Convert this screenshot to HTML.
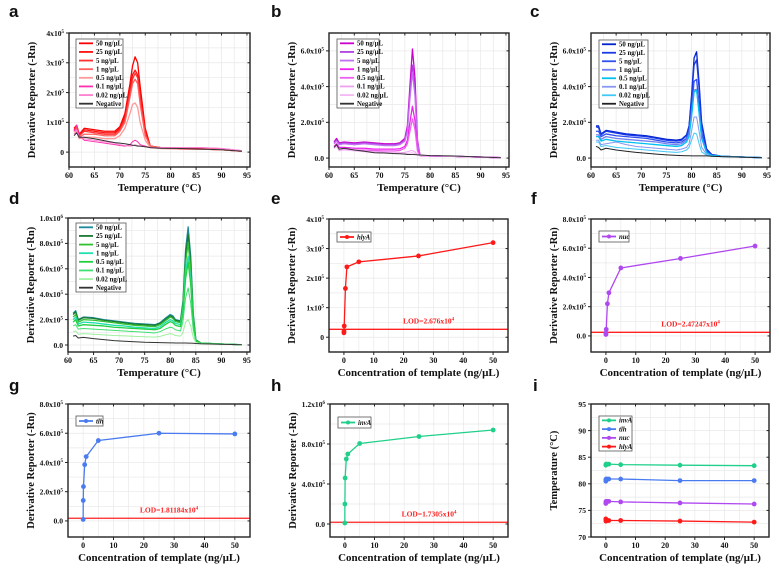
<!DOCTYPE html>
<html><head><meta charset="utf-8">
<style>
html,body{margin:0;padding:0;background:#fff;}
svg{display:block;font-family:"Liberation Serif",serif;}
.lt{font-family:"Liberation Sans",sans-serif;font-weight:bold;font-size:17px;}
</style></head>
<body>
<svg id="fig" width="779" height="570" viewBox="0 0 779 570" xmlns="http://www.w3.org/2000/svg"></svg>
<script>
// ---------- data ----------
const meltLabels = ["50 ng/\u00b5L","25 ng/\u00b5L","5 ng/\u00b5L","1 ng/\u00b5L","0.5 ng/\u00b5L","0.1 ng/\u00b5L","0.02 ng/\u00b5L","Negative"];
const tempA = [61,61.5,62,63,65,67,69,70,71,72,72.5,73,73.5,74,75,76,78,82,86,90,94];
const serA = [
[0.8,0.9,0.6,0.8,0.75,0.7,0.7,0.85,1.3,2.3,2.9,3.2,3.0,2.2,0.8,0.2,0.15,0.12,0.12,0.1,0.03],
[0.75,0.9,0.6,0.75,0.7,0.65,0.65,0.8,1.2,2.1,2.6,2.75,2.6,1.9,0.7,0.2,0.15,0.12,0.1,0.08,0.03],
[0.7,0.85,0.55,0.7,0.65,0.6,0.6,0.75,1.1,2.0,2.45,2.65,2.5,1.8,0.6,0.2,0.15,0.1,0.1,0.08,0.03],
[0.7,0.8,0.5,0.6,0.6,0.55,0.55,0.7,1.0,1.85,2.3,2.45,2.3,1.6,0.55,0.2,0.15,0.1,0.1,0.08,0.03],
[0.6,0.7,0.45,0.5,0.5,0.45,0.45,0.55,0.8,1.3,1.6,1.65,1.5,1.0,0.4,0.15,0.12,0.1,0.1,0.08,0.03],
[0.7,0.9,0.55,0.4,0.35,0.3,0.25,0.22,0.2,0.25,0.35,0.4,0.35,0.25,0.2,0.15,0.15,0.15,0.15,0.12,0.05],
[0.6,0.75,0.5,0.45,0.4,0.35,0.3,0.25,0.22,0.2,0.22,0.25,0.22,0.2,0.18,0.15,0.15,0.15,0.15,0.12,0.05],
[0.55,0.65,0.5,0.5,0.45,0.38,0.32,0.3,0.28,0.25,0.23,0.22,0.2,0.2,0.18,0.15,0.13,0.12,0.1,0.08,0.03]];
const tempB = [61,61.5,62,63,65,67,69,71,73,74,75,75.5,76,76.5,77,77.5,78,80,84,88,94];
const serB = [
[0.9,1.1,0.85,0.9,0.85,0.9,0.85,0.8,0.8,0.85,1.1,1.8,4.0,6.1,4.5,1.0,0.15,0.12,0.1,0.07,0.02],
[0.85,1.0,0.8,0.85,0.8,0.85,0.8,0.75,0.75,0.8,1.0,1.6,3.6,5.2,3.8,0.9,0.15,0.12,0.1,0.07,0.02],
[0.8,0.95,0.75,0.8,0.75,0.8,0.75,0.7,0.7,0.75,0.95,1.5,3.3,4.8,3.5,0.8,0.15,0.12,0.1,0.07,0.02],
[0.65,0.8,0.6,0.6,0.55,0.55,0.5,0.5,0.5,0.52,0.65,1.0,2.0,2.9,2.1,0.5,0.12,0.12,0.1,0.07,0.02],
[0.55,0.7,0.5,0.5,0.45,0.45,0.42,0.4,0.4,0.42,0.55,0.8,1.5,2.2,1.6,0.4,0.12,0.12,0.1,0.07,0.02],
[0.6,0.7,0.45,0.5,0.42,0.38,0.35,0.32,0.3,0.3,0.32,0.35,0.4,0.42,0.35,0.2,0.12,0.12,0.1,0.07,0.02],
[0.55,0.65,0.4,0.45,0.4,0.35,0.3,0.28,0.26,0.25,0.25,0.26,0.28,0.3,0.25,0.18,0.12,0.12,0.1,0.07,0.02],
[0.6,0.75,0.5,0.55,0.45,0.38,0.3,0.28,0.25,0.24,0.22,0.2,0.2,0.2,0.19,0.18,0.17,0.14,0.12,0.08,0.02]];
const tempC = [61,61.5,62,63,65,67,69,71,73,75,77,78,79,79.5,80,80.5,81,81.5,82,83,84,86,90,94];
const serC = [
[1.8,1.8,1.35,1.55,1.45,1.35,1.3,1.25,1.15,1.05,1.0,1.05,1.3,1.8,3.5,5.6,5.95,4.2,2.0,0.5,0.2,0.1,0.06,0.02],
[1.75,1.7,1.3,1.5,1.4,1.3,1.25,1.2,1.1,1.0,0.95,1.0,1.25,1.7,3.3,5.2,5.5,3.9,1.8,0.45,0.2,0.1,0.06,0.02],
[1.5,1.5,1.2,1.35,1.25,1.2,1.15,1.1,1.0,0.9,0.85,0.9,1.1,1.5,2.8,4.3,4.4,3.0,1.4,0.35,0.15,0.1,0.06,0.02],
[1.3,1.3,1.05,1.2,1.1,1.05,1.0,0.95,0.9,0.8,0.75,0.8,1.0,1.35,2.5,3.8,3.85,2.6,1.2,0.3,0.15,0.1,0.06,0.02],
[1.2,1.2,0.95,1.05,0.95,0.9,0.85,0.8,0.75,0.7,0.65,0.7,0.9,1.2,2.3,3.7,3.8,2.5,1.1,0.3,0.15,0.1,0.06,0.02],
[1.0,1.0,0.75,0.8,0.9,0.75,0.65,0.6,0.55,0.5,0.45,0.5,0.6,0.8,1.5,2.3,2.3,1.5,0.6,0.2,0.1,0.08,0.05,0.02],
[0.9,0.9,0.65,0.7,0.6,0.55,0.5,0.45,0.4,0.35,0.32,0.35,0.45,0.6,1.0,1.4,1.35,0.8,0.35,0.15,0.1,0.08,0.05,0.02],
[0.65,0.6,0.45,0.55,0.45,0.38,0.32,0.27,0.22,0.18,0.15,0.14,0.13,0.13,0.12,0.12,0.12,0.12,0.12,0.12,0.1,0.08,0.05,0.02]];
const tempD = [61,61.5,62,63,65,67,69,71,73,75,77,78,79,80,80.5,81,82,82.5,83,83.5,84,84.5,85,86,90,94];
const serD = [
[2.5,2.7,2.0,2.2,2.15,2.0,1.9,1.8,1.7,1.65,1.6,1.75,2.1,2.4,2.3,2.0,1.9,3.5,7.5,9.3,7.0,2.5,0.4,0.15,0.08,0.02],
[2.4,2.6,1.95,2.15,2.1,1.95,1.85,1.75,1.65,1.6,1.55,1.7,2.0,2.3,2.2,1.95,1.85,3.3,7.0,8.7,6.5,2.3,0.4,0.15,0.08,0.02],
[2.2,2.4,1.8,2.0,1.95,1.85,1.75,1.65,1.55,1.5,1.45,1.6,1.9,2.2,2.1,1.85,1.75,3.1,6.5,8.0,6.0,2.1,0.35,0.15,0.08,0.02],
[2.0,2.2,1.65,1.8,1.75,1.65,1.55,1.5,1.4,1.35,1.3,1.45,1.75,2.0,1.9,1.7,1.6,2.8,5.8,7.0,5.2,1.8,0.3,0.15,0.08,0.02],
[1.8,2.0,1.5,1.6,1.55,1.5,1.4,1.35,1.3,1.25,1.2,1.3,1.6,1.85,1.75,1.55,1.45,2.5,5.2,6.5,4.8,1.7,0.3,0.15,0.08,0.02],
[1.5,1.6,1.25,1.3,1.25,1.2,1.15,1.1,1.05,1.0,0.95,1.05,1.25,1.4,1.35,1.2,1.1,1.9,3.7,4.5,3.3,1.2,0.25,0.12,0.08,0.02],
[1.05,1.1,0.85,0.9,0.85,0.8,0.75,0.72,0.68,0.65,0.62,0.68,0.8,0.9,0.85,0.75,0.7,1.0,1.8,2.0,1.5,0.6,0.2,0.1,0.06,0.02],
[0.7,0.75,0.55,0.6,0.5,0.42,0.35,0.3,0.26,0.22,0.2,0.19,0.18,0.17,0.17,0.16,0.16,0.16,0.16,0.15,0.15,0.14,0.12,0.1,0.06,0.02]];
const conc = [0,0.02,0.1,0.5,1,5,25,50];
const lodE = [0.15,0.2,0.38,1.65,2.38,2.55,2.75,3.2];
const lodF = [0.1,0.2,0.45,2.2,2.95,4.65,5.3,6.15];
const lodG = [0.1,1.4,2.35,3.85,4.4,5.5,6.0,5.95];
const lodH = [0.1,2.0,4.6,6.5,7.0,8.05,8.75,9.4];
const lodValues = [0.2676,0.247247,0.181184,0.17305];
const tmInvA = [83.5,83.6,83.7,83.7,83.7,83.6,83.5,83.4];
const tmTlh = [80.5,80.8,80.9,80.9,80.9,80.9,80.6,80.6];
const tmNuc = [76.3,76.6,76.7,76.7,76.7,76.6,76.4,76.2];
const tmHlyA = [73.4,73.0,73.2,73.1,73.1,73.1,73.0,72.8];
const tempTicks = [60,65,70,75,80,85,90,95];
const concTicks = [0,10,20,30,40,50];

// ---------- helpers ----------
const NS = "http://www.w3.org/2000/svg";
const fig = document.getElementById('fig');
function mk(parent, tag, attrs, name){
  const el = document.createElementNS(NS, tag);
  for (const k in attrs) el.setAttribute(k, attrs[k]);
  
  
  parent.appendChild(el);
  return el;
}
function label(parent, x, y, str, size, anchor, name, fill){
  const t = mk(parent, 'text', {x:x, y:y, 'font-size':size, 'font-weight':'bold', 'text-anchor':anchor, fill:fill||'#111'}, name);
  const parts = str.split('^');
  t.appendChild(document.createTextNode(parts[0]));
  if (parts[1]){
    const s = mk(t, 'tspan', {'font-size':size*0.65, dy:-size*0.4}, name+'-exp');
    s.textContent = parts[1];
  }
  return t;
}
function panel(c){
  const g = mk(fig, 'g', {}, 'panel-'+c.letter);
  const L=c.L, T=c.T, R=c.R, B=c.B;
  const sx = v => L + (v - c.xmin) / (c.xmax - c.xmin) * (R - L);
  const sy = v => B - (v - c.ymin) / (c.ymax - c.ymin) * (B - T);
  const lt = mk(g,'text',{x:c.lx, y:c.ly, class:'lt', fill:'#111'}, 'panel-letter');
  lt.textContent = c.letter;
  const gx = [];
  for (let i=0;i<c.xticks.length;i++){ gx.push(c.xticks[i]); if(i<c.xticks.length-1) gx.push((c.xticks[i]+c.xticks[i+1])/2); }
  gx.forEach(v=>{ if(v>c.xmin&&v<c.xmax) mk(g,'line',{x1:sx(v),x2:sx(v),y1:T,y2:B,stroke:'#e8e8e8','stroke-width':0.7},'grid-x'); });
  const gy = [];
  for (let i=0;i<c.yticks.length;i++){ gy.push(c.yticks[i]); if(i<c.yticks.length-1) gy.push((c.yticks[i]+c.yticks[i+1])/2); }
  gy.forEach(v=>{ if(v>c.ymin&&v<c.ymax) mk(g,'line',{x1:L,x2:R,y1:sy(v),y2:sy(v),stroke:'#e8e8e8','stroke-width':0.7},'grid-y'); });
  if (c.lod !== undefined){
    mk(g,'line',{x1:L,x2:R,y1:sy(c.lod),y2:sy(c.lod),stroke:'#ff2020','stroke-width':1.3},'lod-line');
    label(g,(L+R)/2+10,sy(c.lod)-6,c.lodText,7.5,'middle','lod-label','#ff2020');
  }
  c.series.forEach((s,i)=>{
    const pts = s.y.map((v,j)=>sx(s.x[j]).toFixed(2)+','+sy(v).toFixed(2)).join(' ');
    mk(g,'polyline',{points:pts,fill:'none',stroke:s.color,'stroke-width':s.w||1.1,'stroke-linejoin':'round'},'series-'+s.id);
    if (s.marker){
      s.y.forEach((v,j)=>{ mk(g,'circle',{cx:sx(s.x[j]),cy:sy(v),r:2.4,fill:s.color},'point-'+s.id); });
    }
  });
  mk(g,'rect',{x:L,y:T,width:R-L,height:B-T,fill:'none',stroke:'#222','stroke-width':1.4},'plot-frame');
  c.xticks.forEach(v=>{
    mk(g,'line',{x1:sx(v),x2:sx(v),y1:B,y2:B+3,stroke:'#222','stroke-width':1},'x-tick');
    mk(g,'line',{x1:sx(v),x2:sx(v),y1:T,y2:T+2.5,stroke:'#222','stroke-width':1},'x-tick-top');
    label(g,sx(v),B+11,String(v),8,'middle','x-tick-label');
  });
  c.yticks.forEach((v,i)=>{
    mk(g,'line',{x1:L-3,x2:L,y1:sy(v),y2:sy(v),stroke:'#222','stroke-width':1},'y-tick');
    mk(g,'line',{x1:R-2.5,x2:R,y1:sy(v),y2:sy(v),stroke:'#222','stroke-width':1},'y-tick-right');
    label(g,L-5,sy(v)+2.8,c.ylabels[i],7.6,'end','y-tick-label');
  });
  label(g,(L+R)/2,B+24,c.xtitle,11,'middle','x-axis-title');
  const yt = label(g,0,0,c.ytitle,10.5,'middle','y-axis-title');
  yt.setAttribute('transform','translate('+(L-34)+','+((T+B)/2)+') rotate(-90)');
  const lg = c.legend;
  const n = c.series.length;
  mk(g,'rect',{x:lg.x,y:lg.y,width:lg.w,height:lg.h,fill:'#fff',stroke:'#555','stroke-width':0.8},'legend-box');
  const step = lg.h / n;
  c.series.forEach((s,i)=>{
    const yy = lg.y + step*(i+0.5);
    mk(g,'line',{x1:lg.x+3,x2:lg.x+17,y1:yy,y2:yy,stroke:s.color,'stroke-width':1.8},'legend-swatch');
    if (s.marker) mk(g,'circle',{cx:lg.x+10,cy:yy,r:2,fill:s.color},'legend-marker');
    const t = mk(g,'text',{x:lg.x+20,y:yy+2.3,'font-size':lg.fs||6.8,'font-weight':'bold','font-style':lg.italic?'italic':'normal',fill:'#111'},'legend-entry');
    t.textContent = s.label;
  });
}
const meltY = 'Derivative Reporter (-Rn)';
function meltSeries(temps, ser, colors){
  return ser.map((y,i)=>({x:temps,y:y,color:colors[i],label:meltLabels[i],id:'melt-'+i,w:i<5?1.3:1}));
}
panel({letter:'a',lx:9,ly:17,L:69,T:33,R:250,B:167,xmin:60,xmax:95.6,ymin:-0.5,ymax:4,
  xticks:tempTicks,yticks:[0,1,2,3,4],ylabels:['0','1x10^5','2x10^5','3x10^5','4x10^5'],
  xtitle:'Temperature (\u00b0C)',ytitle:meltY,
  series:meltSeries(tempA,serA,['#ff0000','#ff1010','#ff3030','#ff6060','#ff9898','#ff30b0','#ff80d0','#333333']),
  legend:{x:76,y:39,w:47,h:69}});
panel({letter:'b',lx:271,ly:17,L:329,T:33,R:509,B:167,xmin:60,xmax:95.6,ymin:-0.5,ymax:7,
  xticks:tempTicks,yticks:[0,2,4,6],ylabels:['0.0','2.0x10^5','4.0x10^5','6.0x10^5'],
  xtitle:'Temperature (\u00b0C)',ytitle:meltY,
  series:meltSeries(tempB,serB,['#cc00cc','#b040e0','#c070f0','#ee22ee','#f060f0','#f0a0f0','#f5b8f5','#333333']),
  legend:{x:337,y:39,w:42,h:69}});
panel({letter:'c',lx:530,ly:17,L:591,T:33,R:770,B:167,xmin:60,xmax:95.6,ymin:-0.5,ymax:7,
  xticks:tempTicks,yticks:[0,2,4,6],ylabels:['0.0','2.0x10^5','4.0x10^5','6.0x10^5'],
  xtitle:'Temperature (\u00b0C)',ytitle:meltY,
  series:meltSeries(tempC,serC,['#0022cc','#1a3ae8','#3050f0','#7080f0','#00c0f0','#8898f0','#40c8f8','#222222']),
  legend:{x:599,y:40,w:49,h:68}});
panel({letter:'d',lx:9,ly:204,L:68,T:218,R:250,B:352,xmin:60,xmax:95.6,ymin:-0.55,ymax:10,
  xticks:tempTicks,yticks:[0,2,4,6,8,10],ylabels:['0.0','2.0x10^5','4.0x10^5','6.0x10^5','8.0x10^5','1.0x10^6'],
  xtitle:'Temperature (\u00b0C)',ytitle:meltY,
  series:meltSeries(tempD,serD,['#1a8a9a','#1a7a30','#30c030','#20e0b0','#20d040','#40e070','#a0f0a0','#333333']),
  legend:{x:76,y:223,w:50,h:69}});
const concX = 'Concentration of template (ng/\u00b5L)';
panel({letter:'e',lx:271,ly:204,L:329,T:219,R:508,B:352,xmin:-5,xmax:55,ymin:-0.5,ymax:4,
  xticks:concTicks,yticks:[0,1,2,3,4],ylabels:['0','1x10^5','2x10^5','3x10^5','4x10^5'],
  xtitle:concX,ytitle:meltY,lod:lodValues[0],lodText:'LOD=2.676x10^4',
  series:[{x:conc,y:lodE,color:'#ff1a1a',label:'hlyA',id:'hlyA',marker:true,w:1.3}],
  legend:{x:337,y:232,w:34,h:10,italic:true}});
panel({letter:'f',lx:531,ly:204,L:591,T:219,R:770,B:352,xmin:-5,xmax:55,ymin:-1.1,ymax:8,
  xticks:concTicks,yticks:[0,2,4,6,8],ylabels:['0.0','2.0x10^5','4.0x10^5','6.0x10^5','8.0x10^5'],
  xtitle:concX,ytitle:meltY,lod:lodValues[1],lodText:'LOD=2.47247x10^4',
  series:[{x:conc,y:lodF,color:'#b048f0',label:'nuc',id:'nuc',marker:true,w:1.3}],
  legend:{x:599,y:231,w:30,h:11,italic:true}});
panel({letter:'g',lx:9,ly:391,L:68,T:404,R:250,B:537,xmin:-5,xmax:55,ymin:-1.1,ymax:8,
  xticks:concTicks,yticks:[0,2,4,6,8],ylabels:['0.0','2.0x10^5','4.0x10^5','6.0x10^5','8.0x10^5'],
  xtitle:concX,ytitle:meltY,lod:lodValues[2],lodText:'LOD=1.81184x10^4',
  series:[{x:conc,y:lodG,color:'#4a7cf0',label:'tlh',id:'tlh',marker:true,w:1.3}],
  legend:{x:76,y:416,w:27,h:10,italic:true}});
panel({letter:'h',lx:271,ly:391,L:330,T:404,R:508,B:537,xmin:-5,xmax:55,ymin:-1.3,ymax:12,
  xticks:concTicks,yticks:[0,4,8,12],ylabels:['0.0','4.0x10^5','8.0x10^5','1.2x10^6'],
  xtitle:concX,ytitle:meltY,lod:lodValues[3],lodText:'LOD=1.7305x10^4',
  series:[{x:conc,y:lodH,color:'#20d08a',label:'invA',id:'invA',marker:true,w:1.3}],
  legend:{x:338,y:417,w:33,h:11,italic:true}});
panel({letter:'i',lx:533,ly:391,L:591,T:404,R:769,B:537,xmin:-5,xmax:55,ymin:70,ymax:95,
  xticks:concTicks,yticks:[70,75,80,85,90,95],ylabels:['70','75','80','85','90','95'],
  xtitle:concX,ytitle:'Temperature (\u00b0C)',
  series:[{x:conc,y:tmInvA,color:'#20d08a',label:'invA',id:'invA',marker:true,w:1.3},
          {x:conc,y:tmTlh,color:'#4a7cf0',label:'tlh',id:'tlh',marker:true,w:1.3},
          {x:conc,y:tmNuc,color:'#b048f0',label:'nuc',id:'nuc',marker:true,w:1.3},
          {x:conc,y:tmHlyA,color:'#ff1a1a',label:'hlyA',id:'hlyA',marker:true,w:1.3}],
  legend:{x:599,y:416,w:33,h:35,italic:true}});
</script>
</body></html>
